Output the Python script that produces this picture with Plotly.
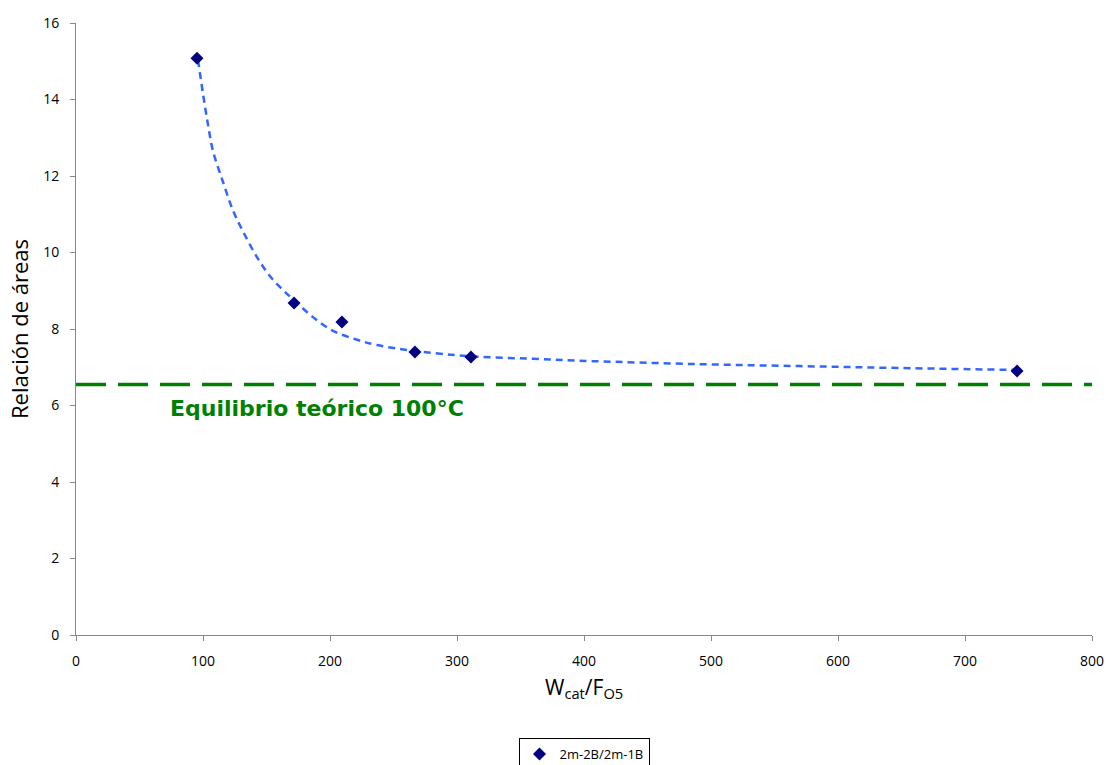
import plotly.graph_objects as go

# Measured data
x_pts = [95.3, 171.7, 209.4, 266.9, 311.0, 741.0]
y_pts = [15.08, 8.68, 8.18, 7.40, 7.27, 6.90]

# Trend curve
x_fit = [96.1, 100.0, 103.9, 107.9, 115.7, 123.6, 131.5, 142.5, 152.8, 163.0, 172.4,
         186.6, 202.4, 221.3, 237.0, 268.5, 310.2, 359.8, 407.1, 491.3, 570.0, 649.0, 741.0]
y_fit = [15.03, 14.15, 13.35, 12.65, 11.85, 11.10, 10.55, 9.88, 9.38, 9.02, 8.73,
         8.31, 7.95, 7.72, 7.58, 7.42, 7.29, 7.22, 7.16, 7.08, 7.03, 6.98, 6.93]

# Theoretical equilibrium
x_eq = [0, 800]
y_eq = [6.55, 6.55]

x_ticks = [0, 100, 200, 300, 400, 500, 600, 700, 800]
y_ticks = [0, 2, 4, 6, 8, 10, 12, 14, 16]

FONT = "Open Sans"

fig = go.Figure()
fig.add_trace(go.Scatter(x=x_eq, y=y_eq, mode="lines",
                         line=dict(color="#008000", width=3.5, dash="30px,12px"),
                         showlegend=False, hoverinfo="skip"))
fig.add_trace(go.Scatter(x=x_fit, y=y_fit, mode="lines", line_shape="spline",
                         line=dict(color="#3366FF", width=2.5, dash="7px,5px", smoothing=1.0),
                         showlegend=False, hoverinfo="skip"))
fig.add_trace(go.Scatter(x=x_pts, y=y_pts, mode="markers", name="2m-2B/2m-1B",
                         marker=dict(symbol="diamond", color="#000080", size=10,
                                     line=dict(width=0))))

fig.add_annotation(x=0.091, y=5.93, xref="paper", yref="y",
                   text="<b>Equilibrio teórico 100°C</b>", showarrow=False,
                   xanchor="left", yanchor="middle",
                   font=dict(family="DejaVu Sans", size=22, color="#008000"))

# x-axis title
fig.add_annotation(x=0.5, y=-(671 - 635) / 612, xref="paper", yref="paper",
                   text="W<sub>cat</sub>/F<sub>O5</sub>", showarrow=False,
                   xanchor="center", yanchor="top",
                   font=dict(family=FONT, size=21, color="#000000"))

axis_common = dict(showgrid=False, zeroline=False, showline=True, linecolor="#888888",
                   linewidth=1, ticks="outside", tickcolor="#888888", ticklen=5,
                   automargin=False,
                   tickfont=dict(family=FONT, size=14, color="#000000"))

fig.update_xaxes(range=[0, 800], tickvals=x_ticks, ticktext=[str(v) for v in x_ticks],
                 ticklabelstandoff=8,
                 **axis_common)
fig.update_yaxes(range=[0, 16], tickvals=y_ticks, ticktext=[str(v) for v in y_ticks],
                 ticklabelstandoff=8,
                 title=dict(text="Relación de áreas",
                            font=dict(family=FONT, size=22, color="#000000"),
                            standoff=8),
                 **axis_common)

fig.update_layout(
    width=1107, height=765,
    margin=dict(l=76, r=15, t=23, b=130, autoexpand=False),
    plot_bgcolor="white", paper_bgcolor="white",
    showlegend=True,
    legend=dict(x=0.5, y=1 - 738 / 765, xanchor="center", yanchor="top",
                yref="container",
                bordercolor="#000000", borderwidth=1, bgcolor="white",
                itemwidth=30, font=dict(family=FONT, size=13, color="#000000"),
                tracegroupgap=0),
)

fig.write_html("out.html")
